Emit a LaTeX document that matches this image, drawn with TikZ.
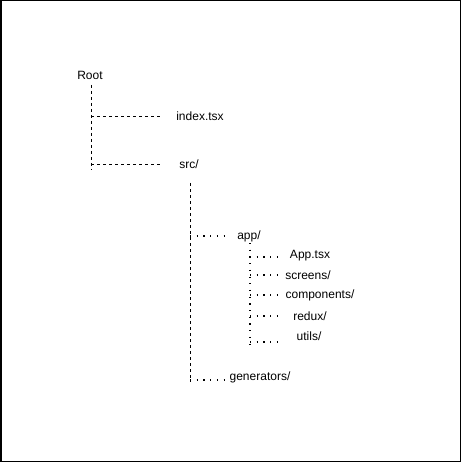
\documentclass[tikz,border=0pt]{standalone}
\usepackage{fontspec}
\setmainfont{Liberation Sans}
\begin{document}
\begin{tikzpicture}[x=1pt,y=-1pt,
  lbl/.style={inner sep=0pt,font=\fontsize{12}{14}\selectfont},
  dashln/.style={draw=black,line width=0.9pt,dash pattern=on 3pt off 3pt},
  dotln/.style={draw=black,line width=1.2pt,dash pattern=on 1.2pt off 5.5pt}]
\useasboundingbox (0,0) rectangle (461,462);
\draw[line width=1.5pt] (0.75,0.75) rectangle (460.25,461.25);
% nodes
\node[lbl] (root) at (90,75) {Root};
\node[lbl] (idx) at (200,116) {index.tsx};
\node[lbl] (src) at (189,164) {src/};
\node[lbl] (app) at (249,236) {app/};
\node[lbl] (apptsx) at (310,256) {App.tsx};
\node[lbl] (scr) at (308,275) {screens/};
\node[lbl] (comp) at (320,295) {components/};
\node[lbl] (redux) at (310,316) {redux/};
\node[lbl] (utils) at (309,336) {utils/};
\node[lbl] (gen) at (260,377) {generators/};
% trunk coordinates
\coordinate (t0a) at (91,85);
\coordinate (t0b) at (91,170);
\coordinate (t0i) at (91,116);
\coordinate (t0s) at (91,164);
\coordinate (e0i) at (160,116);
\coordinate (e0s) at (160,164);
\coordinate (t1a) at (190,183);
\coordinate (t1b) at (190,382);
\coordinate (t1p) at (190,236);
\coordinate (t1g) at (190,380);
\coordinate (e1p) at (226,236);
\coordinate (e1g) at (226,380);
\coordinate (t2a) at (250,243);
\coordinate (t2b) at (250,346);
\coordinate (t2x) at (250,257);
\coordinate (t2s) at (250,275);
\coordinate (t2c) at (250,295);
\coordinate (t2r) at (250,316);
\coordinate (t2u) at (250,342);
\coordinate (e2x) at (278,257);
\coordinate (e2s) at (278,275);
\coordinate (e2c) at (278,295);
\coordinate (e2r) at (278,316);
\coordinate (e2u) at (278,342);
% connectors
\draw[dashln] (t0a) -- (t0b);
\draw[dashln] (t0i) -- (e0i);
\draw[dashln] (t0s) -- (e0s);
\draw[dashln] (t1a) -- (t1b);
\draw[dotln] (t1p) -- (e1p);
\draw[dotln] (t1g) -- (e1g);
\draw[dotln] (t2a) -- (t2b);
\draw[dotln] (t2x) -- (e2x);
\draw[dotln] (t2s) -- (e2s);
\draw[dotln] (t2c) -- (e2c);
\draw[dotln] (t2r) -- (e2r);
\draw[dotln] (t2u) -- (e2u);
\end{tikzpicture}
\end{document}
